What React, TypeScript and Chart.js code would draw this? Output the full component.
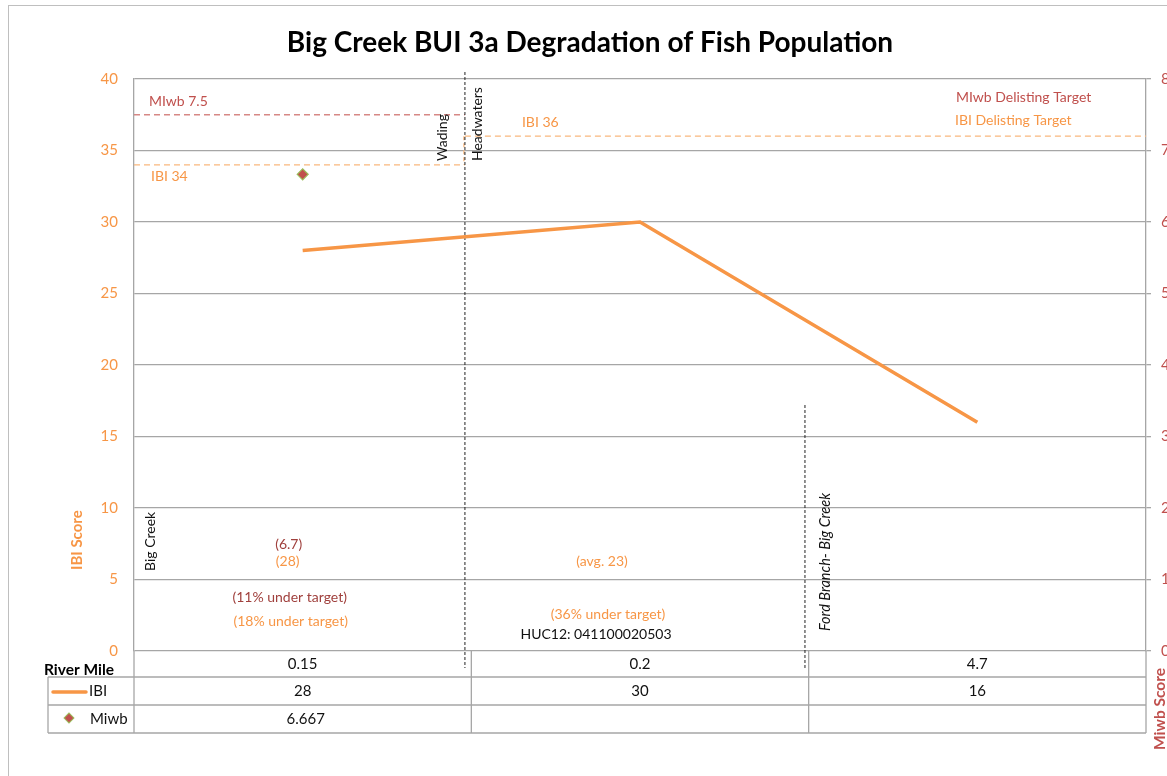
import React, { useEffect, useRef } from "react";
import { Chart, registerables } from "chart.js";
Chart.register(...registerables);

const riverMiles = ["0.15", "0.2", "4.7"];
const ibiValues = [28, 30, 16];
const miwbValues: (number | null)[] = [6.667, null, null];
const miwbTableText = ["6.667", "", ""];
const ibiTargetWading = 34;
const ibiTargetHeadwaters = 36;
const miwbTarget = 7.5;

const FONT = "Lato, 'Open Sans', sans-serif";
const ORANGE = "#F79646";
const RED = "#C0504D";
const DARKRED = "#A0403D";
const GRID = "#A6A6A6";

function vtext(ctx: CanvasRenderingContext2D, text: string, x: number, y: number, font: string, color: string) {
  ctx.save();
  ctx.translate(x, y);
  ctx.rotate(-Math.PI / 2);
  ctx.font = font;
  ctx.fillStyle = color;
  ctx.textAlign = "left";
  ctx.textBaseline = "middle";
  ctx.fillText(text, 0, 0);
  ctx.restore();
}

function text(ctx: CanvasRenderingContext2D, t: string, x: number, y: number, font: string, color: string, align: CanvasTextAlign = "center") {
  ctx.font = font;
  ctx.fillStyle = color;
  ctx.textAlign = align;
  ctx.textBaseline = "middle";
  ctx.fillText(t, x, y);
}

function hline(ctx: CanvasRenderingContext2D, x1: number, x2: number, y: number, color: string, w: number, dash: number[] = []) {
  ctx.save();
  ctx.strokeStyle = color;
  ctx.lineWidth = w;
  ctx.setLineDash(dash);
  ctx.beginPath();
  ctx.moveTo(x1, y);
  ctx.lineTo(x2, y);
  ctx.stroke();
  ctx.restore();
}
function vline(ctx: CanvasRenderingContext2D, x: number, y1: number, y2: number, color: string, w: number, dash: number[] = []) {
  ctx.save();
  ctx.strokeStyle = color;
  ctx.lineWidth = w;
  ctx.setLineDash(dash);
  ctx.beginPath();
  ctx.moveTo(x, y1);
  ctx.lineTo(x, y2);
  ctx.stroke();
  ctx.restore();
}

const annotationPlugin = {
  id: "annotations",
  beforeDatasetsDraw(chart: any) {
    const ctx: CanvasRenderingContext2D = chart.ctx;
    const { left, right, top, bottom } = chart.chartArea;
    const x = chart.scales.x;
    const y = chart.scales.y;
    const y2 = chart.scales.y2;
    const div1 = x.getPixelForValue(0.481);
    const div2 = x.getPixelForValue(1.489);
    const yMiwb = y2.getPixelForValue(miwbTarget);
    const y34 = y.getPixelForValue(ibiTargetWading);
    const y36 = y.getPixelForValue(ibiTargetHeadwaters);
    hline(ctx, left, div1, yMiwb, "#D68885", 1.3, [6, 4]);
    hline(ctx, left, div1, y34, "#F9B87E", 1.3, [6, 4]);
    hline(ctx, div1, right, y36, "#F9B87E", 1.3, [6, 4]);
    vline(ctx, div1 - 1, y36, y34, "#F9B87E", 1.3, [4, 3]);
    vline(ctx, div1, top - 7, bottom + 17, "#222", 1, [3, 2]);
    vline(ctx, div2, 405, bottom + 17, "#222", 1, [3, 2]);

    const f14 = `14px ${FONT}`;
    text(ctx, "MIwb 7.5", left + 15, 101, f14, RED, "left");
    text(ctx, "IBI 34", left + 17, 176, f14, ORANGE, "left");
    text(ctx, "IBI 36", div1 + 57, 122, f14, ORANGE, "left");
    text(ctx, "MIwb Delisting Target", 956, 97, f14, RED, "left");
    text(ctx, "IBI Delisting Target", 955, 120, f14, ORANGE, "left");

    vtext(ctx, "Wading", div1 - 22, 161, f14, "#111");
    vtext(ctx, "Headwaters", div1 + 13, 161, f14, "#111");
    vtext(ctx, "Big Creek", left + 16, 571, f14, "#111");
    vtext(ctx, "Ford Branch- Big Creek", div2 + 20, 631, `italic 14.5px ${FONT}`, "#111");

    const c0 = x.getPixelForValue(0);
    const c1 = x.getPixelForValue(1);
    text(ctx, "(6.7)", c0 - 14, 544, f14, DARKRED);
    text(ctx, "(28)", c0 - 15, 561, f14, ORANGE);
    text(ctx, "(11% under target)", c0 - 13, 597, f14, DARKRED);
    text(ctx, "(18% under target)", c0 - 12, 621, f14, ORANGE);
    text(ctx, "(avg. 23)", c1 - 38, 561, f14, ORANGE);
    text(ctx, "(36% under target)", c1 - 32, 614, f14, ORANGE);
    text(ctx, "HUC12: 041100020503", c1 - 44, 634, f14, "#111");
  },
  afterDraw(chart: any) {
    const ctx: CanvasRenderingContext2D = chart.ctx;
    const { left, right, bottom } = chart.chartArea;
    const x = chart.scales.x;
    // title
    text(ctx, "Big Creek BUI 3a Degradation of Fish Population", 590, 43, `bold 28px ${FONT}`, "#000");
    // axis titles
    vtext(ctx, "IBI Score", 77, 570, `bold 15px ${FONT}`, ORANGE);
    vtext(ctx, "Miwb Score", 1160, 750, `bold 15.5px ${FONT}`, RED);

    // data table
    const r1 = bottom + 26, r2 = bottom + 54, r3 = bottom + 82;
    const tl = 48;
    hline(ctx, tl, right, r1, GRID, 1.3);
    hline(ctx, tl, right, r2, GRID, 1.3);
    hline(ctx, tl, right, r3, GRID, 1.3);
    vline(ctx, tl, r1, r3, GRID, 1.3);
    vline(ctx, left, bottom, r3, GRID, 1.3);
    vline(ctx, right, bottom, r3, GRID, 1.3);
    for (let i = 1; i < riverMiles.length; i++) {
      const bx = x.getPixelForValue(i - 0.5);
      vline(ctx, bx, bottom, r3, GRID, 1.3);
    }
    const f15 = `15px ${FONT}`;
    text(ctx, "River Mile", 79, bottom + 19, `bold 15.5px ${FONT}`, "#000");
    riverMiles.forEach((v, i) => text(ctx, v, x.getPixelForValue(i), bottom + 13, f15, "#111"));
    ibiValues.forEach((v, i) => text(ctx, String(v), x.getPixelForValue(i), bottom + 40, f15, "#111"));
    miwbTableText.forEach((v, i) => v && text(ctx, v, x.getPixelForValue(i) + 3, bottom + 68, f15, "#111"));
    // legend keys
    ctx.save();
    ctx.strokeStyle = ORANGE;
    ctx.lineWidth = 3.5;
    ctx.lineCap = "round";
    ctx.beginPath();
    ctx.moveTo(53, bottom + 41);
    ctx.lineTo(86, bottom + 41);
    ctx.stroke();
    ctx.restore();
    text(ctx, "IBI", 89, bottom + 40, f15, "#111", "left");
    ctx.save();
    ctx.translate(69, bottom + 67);
    ctx.rotate(Math.PI / 4);
    ctx.fillStyle = RED;
    ctx.strokeStyle = "#9BBB59";
    ctx.lineWidth = 1;
    ctx.fillRect(-3.5, -3.5, 7, 7);
    ctx.strokeRect(-3.5, -3.5, 7, 7);
    ctx.restore();
    text(ctx, "Miwb", 90, bottom + 68, f15, "#111", "left");
  },
};

export default function App() {
  const ref = useRef<HTMLCanvasElement | null>(null);
  useEffect(() => {
    if (!ref.current) return;
    const chart = new Chart(ref.current, {
      type: "line",
      data: {
        labels: riverMiles,
        datasets: [
          {
            label: "IBI",
            data: ibiValues,
            yAxisID: "y",
            borderColor: ORANGE,
            backgroundColor: ORANGE,
            borderWidth: 3.5,
            pointRadius: 0,
            tension: 0,
          },
          {
            label: "Miwb",
            data: miwbValues,
            yAxisID: "y2",
            showLine: false,
            pointStyle: "rectRot",
            pointRadius: 5.5,
            pointBackgroundColor: RED,
            pointBorderColor: "#9BBB59",
            pointBorderWidth: 1.2,
          },
        ],
      },
      options: {
        responsive: false,
        animation: false,
        devicePixelRatio: 1,
        layout: { padding: { left: 0, right: 0, top: 79, bottom: 125 } },
        plugins: { legend: { display: false }, title: { display: false }, tooltip: { enabled: false } },
        scales: {
          x: { type: "category", offset: true, display: false },
          y: {
            position: "left",
            min: 0,
            max: 40,
            ticks: { stepSize: 5, color: ORANGE, padding: 16, font: { size: 15, family: FONT } },
            grid: { color: GRID, lineWidth: 1.3, drawTicks: false },
            border: { color: GRID, width: 1.3 },
            afterFit(s: any) { s.width = 134; },
          },
          y2: {
            position: "right",
            min: 0,
            max: 8,
            ticks: { stepSize: 1, color: RED, padding: 10, font: { size: 15, family: FONT } },
            grid: { drawOnChartArea: false, drawTicks: true, tickLength: 5, color: GRID, lineWidth: 1.3 },
            border: { color: GRID, width: 1.3 },
            afterFit(s: any) { s.width = 21; },
          },
        },
      },
      plugins: [annotationPlugin],
    } as any);
    return () => chart.destroy();
  }, []);
  return (
    <div style={{ position: "fixed", left: 0, top: 0, width: 1167, height: 776, overflow: "hidden", background: "#fff" }}>
      <div style={{ position: "absolute", left: 8, top: 5, width: 1300, height: 900, border: "1.5px solid #BFBFBF" }} />
      <canvas ref={ref} width={1167} height={776} style={{ position: "absolute", left: 0, top: 0 }} />
    </div>
  );
}
